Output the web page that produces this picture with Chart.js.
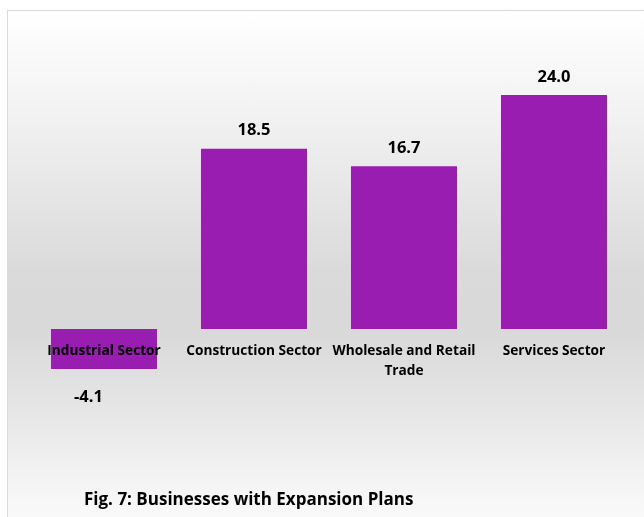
<!DOCTYPE html>
<html><head><meta charset="utf-8">
<script src="https://cdn.jsdelivr.net/npm/chart.js@4"></script>
<style>
html,body{margin:0;padding:0;width:644px;height:517px;overflow:hidden;background:#fff;}
#frame{position:absolute;left:7px;top:10px;width:660px;height:530px;border:1px solid #d9d9d9;
background:linear-gradient(to bottom,#ffffff 0px,#f1f1f1 110px,#dadada 260px,#d9d9d9 320px,#e6e6e6 400px,#f4f4f4 470px,#fbfbfb 520px);}
#wrap{position:absolute;left:0;top:0;width:644px;height:517px;}
#title{position:absolute;left:84px;top:490px;font:bold 17px/17px "Open Sans",sans-serif;color:#000;white-space:nowrap;letter-spacing:0px;}
</style></head>
<body>
<div id="frame"></div>
<div id="wrap"><canvas id="c" width="644" height="517"></canvas></div>
<div id="title">Fig. 7: Businesses with Expansion Plans</div>
<script>
const categories = ["Industrial Sector","Construction Sector",["Wholesale and Retail","Trade"],"Services Sector"];
const values = [-4.1, 18.5, 16.7, 24.0];
const valueLabels = ["-4.1","18.5","16.7","24.0"];

const valuePlugin = {
  id:'valueLabels',
  afterDatasetsDraw(chart){
    const ctx = chart.ctx;
    const meta = chart.getDatasetMeta(0);
    ctx.save();
    ctx.font = 'bold 16.5px "Open Sans", sans-serif';
    ctx.fillStyle = '#000';
    ctx.textAlign = 'center';
    ctx.textBaseline = 'middle';
    meta.data.forEach((bar,i)=>{
      const v = values[i];
      const y = v >= 0 ? bar.y - 18 : bar.y + 28;
      const x = v >= 0 ? bar.x : bar.x - 15.5;
      ctx.fillText(valueLabels[i], x, y);
    });
    ctx.restore();
  }
};

new Chart(document.getElementById('c'), {
  type:'bar',
  data:{labels:categories, datasets:[{data:values, backgroundColor:'#9a1db1', borderWidth:0, barPercentage:0.707, categoryPercentage:1}]},
  options:{
    responsive:false, animation:false,
    layout:{padding:{left:29,right:15,top:56,bottom:90.5}},
    plugins:{legend:{display:false}, tooltip:{enabled:false}, title:{display:false}},
    scales:{
      x:{position:{y:0}, z:1, grid:{display:false, drawTicks:false}, border:{display:false},
         ticks:{z:1, padding:12, color:'#000', maxRotation:0, autoSkip:false,
                font:{family:'"Open Sans", sans-serif', weight:'bold', size:13.7, lineHeight:'20px'}}},
      y:{display:false, min:-10, max:28}
    }
  },
  plugins:[valuePlugin]
});
</script>
</body></html>
